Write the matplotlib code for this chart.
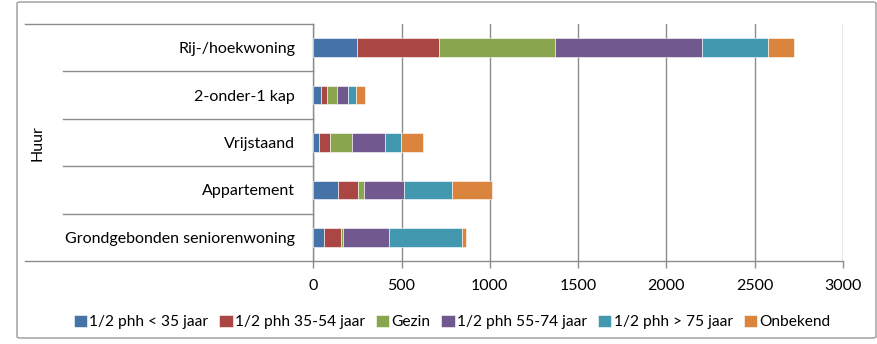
import matplotlib
matplotlib.use("Agg")
import matplotlib.pyplot as plt
from matplotlib.patches import FancyBboxPatch
from matplotlib.transforms import blended_transform_factory
import numpy as np

plt.rcParams['font.family'] = ['Lato', 'DejaVu Sans']

categories = ["Rij-/hoekwoning", "2-onder-1 kap", "Vrijstaand", "Appartement",
              "Grondgebonden seniorenwoning"]
series_names = ["1/2 phh < 35 jaar", "1/2 phh 35-54 jaar", "Gezin",
                "1/2 phh 55-74 jaar", "1/2 phh > 75 jaar", "Onbekend"]
values = {
    "1/2 phh < 35 jaar":  [249, 42, 34, 138, 62],
    "1/2 phh 35-54 jaar": [463, 37, 61, 117, 95],
    "Gezin":              [657, 53, 124, 30, 11],
    "1/2 phh 55-74 jaar": [832, 66, 189, 229, 262],
    "1/2 phh > 75 jaar":  [376, 42, 90, 273, 413],
    "Onbekend":           [147, 53, 125, 227, 23],
}
colors = ["#4572A7", "#AA4643", "#89A54E", "#71588F", "#4198AF", "#DB843D"]
group_label = "Huur"
xticks = [0, 500, 1000, 1500, 2000, 2500, 3000]

W, H = 878, 344
FS = 11.5
fig = plt.figure(figsize=(W / 100, H / 100), dpi=100)

# outer chart frame
frame = FancyBboxPatch((17 / W, 6 / H), (W - 19) / W, (H - 8) / H,
                       boxstyle="round,pad=0,rounding_size=0.004",
                       transform=fig.transFigure, fill=False,
                       edgecolor="#9a9a9a", linewidth=1.0)
fig.patches.append(frame)

x0, x1 = 313.3, 843.0
y_top, y_bot = 24.0, 261.0
ax = fig.add_axes([x0 / W, 1 - y_bot / H, (x1 - x0) / W, (y_bot - y_top) / H])

y = np.arange(len(categories))
left = np.zeros(len(categories))
for name, c in zip(series_names, colors):
    v = np.array(values[name], dtype=float)
    ax.barh(y, v, left=left, height=0.39, color=c, edgecolor="white",
            linewidth=0.4, label=name, zorder=3)
    left += v

ax.set_xlim(0, 3000)
ax.set_ylim(len(categories) - 0.5, -0.5)
ax.set_xticks(xticks)
ax.set_xticklabels([str(t) for t in xticks], fontsize=FS)
ax.xaxis.grid(True, color="#8c8c8c", linewidth=1.0, zorder=0)
ax.tick_params(axis="x", length=5, color="#8c8c8c", pad=8, width=1.0)
ax.set_yticks(y)
ax.set_yticklabels(categories, fontsize=FS)
ax.tick_params(axis="y", length=0, pad=13)
for s in ["top", "right"]:
    ax.spines[s].set_visible(False)
for s in ["left", "bottom"]:
    ax.spines[s].set_color("#8c8c8c")
    ax.spines[s].set_linewidth(1.0)

# category separators on the left side
tr = blended_transform_factory(ax.transAxes, ax.transData)
sep_x = (63 - x0) / (x1 - x0)
out_x = (25 - x0) / (x1 - x0)
for k in range(1, len(categories)):
    ax.plot([sep_x, 0], [k - 0.5, k - 0.5], transform=tr, color="#8c8c8c",
            linewidth=1.0, clip_on=False)
for yy in [-0.5, len(categories) - 0.5]:
    ax.plot([out_x, 0], [yy, yy], transform=tr, color="#8c8c8c",
            linewidth=1.0, clip_on=False)

fig.text(38 / W, 1 - 143 / H, group_label, rotation=90, ha="center",
         va="center", fontsize=FS)

handles, labels = ax.get_legend_handles_labels()
fig.legend(handles, labels, loc="center", bbox_to_anchor=(452 / W, 1 - 322 / H),
           ncol=6, frameon=False, fontsize=11.2, handlelength=0.85,
           handleheight=0.85, handletextpad=0.15, columnspacing=0.7)

fig.savefig("out.png", dpi=100)
